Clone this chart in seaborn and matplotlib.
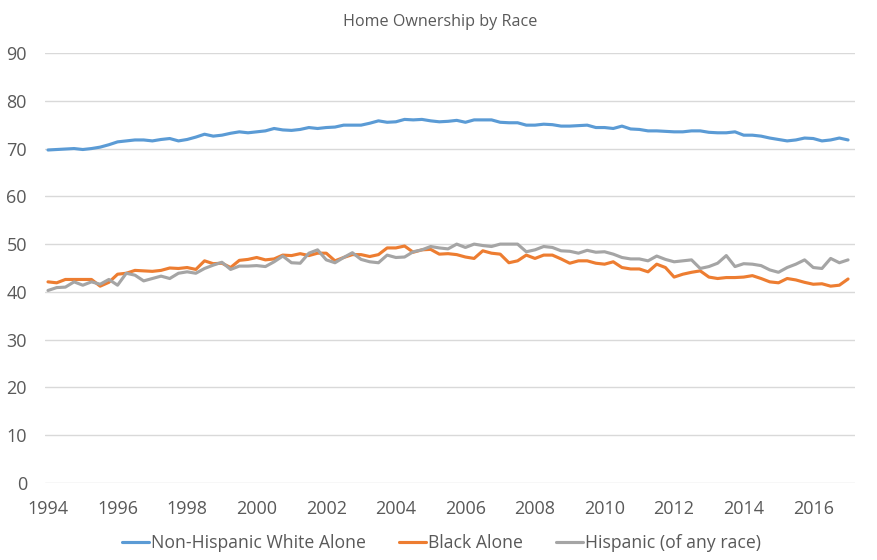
import numpy as np
import pandas as pd
import matplotlib
matplotlib.use("Agg")
import matplotlib.pyplot as plt
import seaborn as sns

# Quarterly data, 1994 Q1 .. 2017 Q1
year_labels = ["1994", "1996", "1998", "2000", "2002", "2004", "2006",
               "2008", "2010", "2012", "2014", "2016"]

white = [69.7, 69.8, 69.9, 70.0, 69.8, 70.0, 70.3, 70.8, 71.4, 71.6,
         71.8, 71.8, 71.6, 71.9, 72.1, 71.6, 71.9, 72.4, 73.0, 72.6,
         72.8, 73.2, 73.5, 73.3, 73.5, 73.7, 74.2, 73.9, 73.8, 74.0,
         74.4, 74.2, 74.4, 74.5, 74.9, 74.9, 74.9, 75.3, 75.8, 75.5,
         75.6, 76.1, 76.0, 76.1, 75.8, 75.6, 75.7, 75.9, 75.5, 76.0,
         76.0, 76.0, 75.5, 75.4, 75.4, 74.9, 74.9, 75.1, 75.0, 74.7,
         74.7, 74.8, 74.9, 74.4, 74.4, 74.2, 74.7, 74.1, 74.0, 73.7,
         73.7, 73.6, 73.5, 73.5, 73.7, 73.7, 73.4, 73.3, 73.3, 73.5,
         72.8, 72.8, 72.6, 72.2, 71.9, 71.6, 71.8, 72.2, 72.1, 71.6,
         71.8, 72.2, 71.8]

black = [42.1, 41.9, 42.6, 42.6, 42.6, 42.6, 41.2, 42.0, 43.7, 43.9,
         44.5, 44.4, 44.3, 44.5, 45.0, 44.9, 45.1, 44.7, 46.5, 45.9,
         46.0, 45.1, 46.6, 46.8, 47.2, 46.7, 46.9, 47.7, 47.6, 48.0,
         47.6, 48.1, 48.1, 46.5, 47.2, 47.8, 47.8, 47.4, 47.8, 49.2,
         49.2, 49.6, 48.3, 48.8, 48.9, 47.9, 48.0, 47.8, 47.3, 47.0,
         48.6, 48.1, 47.9, 46.1, 46.5, 47.7, 47.0, 47.7, 47.7, 46.9,
         46.0, 46.5, 46.5, 46.0, 45.8, 46.3, 45.1, 44.8, 44.8, 44.2,
         45.8, 45.1, 43.1, 43.7, 44.1, 44.4, 43.1, 42.8, 43.0, 43.0,
         43.1, 43.4, 42.8, 42.1, 41.9, 42.8, 42.5, 42.0, 41.6, 41.7,
         41.2, 41.4, 42.7]

hispanic = [40.3, 40.9, 41.0, 42.1, 41.4, 42.1, 41.6, 42.6, 41.4, 43.9,
            43.5, 42.3, 42.8, 43.3, 42.8, 43.9, 44.2, 43.9, 44.9, 45.6,
            46.2, 44.7, 45.4, 45.4, 45.5, 45.3, 46.3, 47.5, 46.1, 46.0,
            48.1, 48.8, 46.7, 46.1, 47.2, 48.2, 46.8, 46.3, 46.1, 47.7,
            47.2, 47.3, 48.4, 48.8, 49.5, 49.2, 49.0, 50.0, 49.3, 50.0,
            49.7, 49.5, 50.0, 50.0, 50.0, 48.4, 48.8, 49.5, 49.3, 48.6,
            48.5, 48.1, 48.7, 48.3, 48.4, 47.9, 47.2, 46.9, 46.9, 46.5,
            47.5, 46.8, 46.3, 46.5, 46.7, 44.9, 45.3, 46.0, 47.6, 45.3,
            45.9, 45.8, 45.5, 44.6, 44.1, 45.1, 45.8, 46.7, 45.1, 44.9,
            47.0, 46.1, 46.7]

series_names = ["Non-Hispanic White Alone", "Black Alone", "Hispanic (of any race)"]
colors = ["#5B9BD5", "#ED7D31", "#A5A5A5"]

n = len(white)
df = pd.concat([
    pd.DataFrame({"idx": np.arange(n), "value": vals, "series": name})
    for name, vals in zip(series_names, [white, black, hispanic])
], ignore_index=True)

sns.set_style("white")
plt.rcParams["font.family"] = ["Open Sans", "DejaVu Sans"]

fig = plt.figure(figsize=(8.78, 5.6), dpi=100)
ax = fig.add_axes([45 / 878, 77 / 560, (855 - 45) / 878, (483 - 53) / 560])

sns.lineplot(data=df, x="idx", y="value", hue="series",
             palette=dict(zip(series_names, colors)),
             hue_order=series_names, linewidth=2.25, ax=ax)

ax.set_xlim(-0.345, 92.8)
ax.set_ylim(0, 90)
ax.set_yticks(np.arange(0, 91, 10))
ax.set_xticks(np.arange(0, 8 * len(year_labels), 8))
ax.set_xticklabels(year_labels)
ax.set_xlabel("")
ax.set_ylabel("")
ax.yaxis.grid(True, color="#D9D9D9", linewidth=1)
ax.xaxis.grid(False)
for s in ax.spines.values():
    s.set_visible(False)
ax.tick_params(axis="both", length=0, labelsize=13, labelcolor="#595959")
ax.tick_params(axis="y", pad=13)
ax.tick_params(axis="x", pad=12)

handles, labels = ax.get_legend_handles_labels()
ax.get_legend().remove()
fig.legend(handles, labels, loc="center", bbox_to_anchor=(441.5 / 878, 1 - 543 / 560),
           ncol=3, frameon=False, fontsize=12.7, labelcolor="#595959",
           handlelength=1.55, handletextpad=0.12, columnspacing=1.85)

fig.text(440 / 878, 1 - 22 / 560, "Home Ownership by Race", ha="center", va="center",
         fontsize=11.6, color="#595959")

fig.savefig("out.png", dpi=100, facecolor="white")
